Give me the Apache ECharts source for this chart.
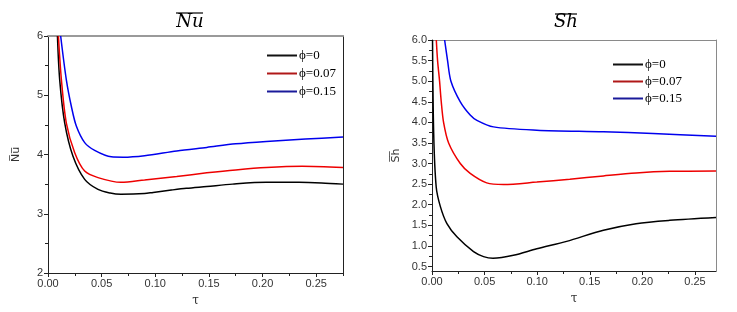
<!DOCTYPE html>
<html><head><meta charset="utf-8">
<script src="https://cdn.jsdelivr.net/npm/echarts@6/dist/echarts.min.js"></script>
<style>html,body{margin:0;padding:0;background:#fff}#c{width:737px;height:312px}</style>
</head><body><div id="c"></div>
<script>
const seriesNames = ['ϕ=0', 'ϕ=0.07', 'ϕ=0.15'];
const lineColors = ['#000000', '#ee0000', '#0000ee'];
const legendColors = ['#111111', '#b01818', '#1a1a9a'];

// Left chart: average Nusselt number
const nuTau0 = [0.0088,0.0109,0.0156,0.0233,0.0342,0.0466,0.058,0.068,0.09,0.098,0.115,0.129,0.148,0.172,0.2035,0.234,0.255,0.275];
const nuVal0 = [6.0,5.26,4.53,3.97,3.58,3.41,3.35,3.33,3.34,3.36,3.40,3.43,3.46,3.50,3.53,3.53,3.52,3.50];
const nuTau07 = [0.0097,0.0125,0.0171,0.0249,0.0342,0.0466,0.068,0.09,0.12,0.148,0.175,0.2035,0.237,0.275];
const nuVal07 = [6.0,5.26,4.53,4.03,3.72,3.61,3.53,3.57,3.63,3.69,3.74,3.78,3.80,3.78];
const nuTau15 = [0.0118,0.0171,0.0218,0.0264,0.0342,0.0435,0.059,0.07,0.09,0.12,0.148,0.175,0.2035,0.24,0.275];
const nuVal15 = [6.0,5.26,4.81,4.48,4.20,4.07,3.96,3.955,3.98,4.06,4.12,4.18,4.22,4.26,4.297];

// Right chart: average Sherwood number
const shTau0 = [0.0005,0.0016,0.004,0.0079,0.0142,0.0237,0.0395,0.049,0.058,0.0774,0.0996,0.128,0.163,0.194,0.226,0.27];
const shVal0 = [6.0,3.73,2.43,1.96,1.54,1.22,0.86,0.74,0.70,0.77,0.93,1.11,1.38,1.54,1.62,1.69];
const shTau07 = [0.0041,0.0053,0.0072,0.0088,0.011,0.0158,0.0269,0.0363,0.052,0.068,0.0996,0.131,0.163,0.194,0.226,0.27];
const shVal07 = [6.0,5.5,5.0,4.5,4.0,3.5,3.0,2.76,2.53,2.49,2.55,2.62,2.70,2.77,2.81,2.82];
const shTau15 = [0.012,0.0148,0.018,0.0269,0.0363,0.0427,0.0585,0.0996,0.163,0.21,0.27];
const shVal15 = [6.0,5.5,5.0,4.5,4.18,4.05,3.89,3.81,3.77,3.73,3.66];

// Tick values
const nuXTicks = [0,0.05,0.10,0.15,0.20,0.25];
const nuXMinor = [0.025,0.075,0.125,0.175,0.225,0.275];
const nuYTicks = [2,3,4,5,6];
const nuYMinor = [2.5,3.5,4.5,5.5];
const shXTicks = [0,0.05,0.10,0.15,0.20,0.25];
const shXMinor = [0.025,0.075,0.125,0.175,0.225];
const shYTicks = [0.5,1.0,1.5,2.0,2.5,3.0,3.5,4.0,4.5,5.0,5.5,6.0];
const shYMinor = [0.75,1.25,1.75,2.25,2.75,3.25,3.75,4.25,4.75,5.25,5.75];

const zip = (a, b) => a.map((v, i) => [v, b[i]]);
const labelFont = {color:'#333', fontSize:11, fontFamily:'"Liberation Sans", Arial, sans-serif'};
const dark = '#222';

function mainX(grid, min, max, ticks, name) {
  return {type:'value', gridIndex:grid, min, max, position:'bottom',
    axisLine:{show:true, onZero:false, lineStyle:{color:dark, width:1}},
    axisTick:{show:true, customValues:ticks, length:4, lineStyle:{color:dark}},
    axisLabel:Object.assign({customValues:ticks, margin:5, formatter:v => v.toFixed(2)}, labelFont),
    splitLine:{show:false},
    name, nameLocation:'middle', nameGap:22,
    nameTextStyle:{color:'#333', fontSize:12, fontFamily:'"DejaVu Serif", serif'}};
}
function minorX(grid, min, max, ticks) {
  return {type:'value', gridIndex:grid, min, max, position:'bottom',
    axisLine:{show:false, onZero:false}, axisLabel:{show:false}, splitLine:{show:false},
    axisTick:{show:true, customValues:ticks, length:3, lineStyle:{color:dark}}};
}
function borderX(grid, min, max, color, width) {
  return {type:'value', gridIndex:grid, min, max, position:'top',
    axisLine:{show:true, onZero:false, lineStyle:{color, width}},
    axisLabel:{show:false}, axisTick:{show:false}, splitLine:{show:false}};
}
function mainY(grid, min, max, ticks, digits, name, gap) {
  return {type:'value', gridIndex:grid, min, max, position:'left',
    axisLine:{show:true, onZero:false, lineStyle:{color:dark, width:1}},
    axisTick:{show:true, customValues:ticks, length:4, lineStyle:{color:dark}},
    axisLabel:Object.assign({customValues:ticks, margin:5, formatter:v => v.toFixed(digits)}, labelFont),
    splitLine:{show:false},
    name, nameLocation:'middle', nameGap:gap, nameRotate:90,
    nameTextStyle:{color:'#333', fontSize:11, fontFamily:'"DejaVu Sans", sans-serif'}};
}
function minorY(grid, min, max, ticks) {
  return {type:'value', gridIndex:grid, min, max, position:'left',
    axisLine:{show:false, onZero:false}, axisLabel:{show:false}, splitLine:{show:false},
    axisTick:{show:true, customValues:ticks, length:3, lineStyle:{color:dark}}};
}
function borderY(grid, min, max, color, width) {
  return {type:'value', gridIndex:grid, min, max, position:'right',
    axisLine:{show:true, onZero:false, lineStyle:{color, width}},
    axisLabel:{show:false}, axisTick:{show:false}, splitLine:{show:false}};
}
function line(name, color, data, xi, yi) {
  return {type:'line', name, xAxisIndex:xi, yAxisIndex:yi, data, smooth:0.3,
    showSymbol:false, symbol:'none', clip:true, lineStyle:{color, width:1.5}, itemStyle:{color}};
}
function legend(left, top, gap) {
  return {orient:'vertical', left, top, itemWidth:30, itemHeight:2, itemGap:gap, icon:'rect',
    textStyle:{color:'#000', fontSize:13, fontFamily:'"Liberation Serif", "DejaVu Serif", serif', padding:[0,0,0,-3]},
    data: seriesNames.map((n, i) => ({name:n, itemStyle:{color:legendColors[i]}}))};
}

const chart = echarts.init(document.getElementById('c'), null, {renderer:'canvas'});
chart.setOption({
  animation:false,
  backgroundColor:'#fff',
  grid:[
    {left:48, top:36, width:295, height:238, containLabel:false},
    {left:432, top:40, width:284, height:231, containLabel:false}
  ],
  xAxis:[
    mainX(0, 0, 0.275, nuXTicks, 'τ'), minorX(0, 0, 0.275, nuXMinor), borderX(0, 0, 0.275, '#9a9a9a', 2),
    mainX(1, 0, 0.27, shXTicks, 'τ'), minorX(1, 0, 0.27, shXMinor), borderX(1, 0, 0.27, '#8a8a8a', 1)
  ],
  yAxis:[
    mainY(0, 2, 6, nuYTicks, 0, 'N\u0305u\u0305', 26), minorY(0, 2, 6, nuYMinor), borderY(0, 2, 6, dark, 1),
    mainY(1, 0.39, 6, shYTicks, 1, 'S\u0305h\u0305', 30), minorY(1, 0.39, 6, shYMinor), borderY(1, 0.39, 6, '#8a8a8a', 1)
  ],
  legend:[legend(262, 44, 5), legend(608, 53, 4)],
  series:[
    line(seriesNames[0], lineColors[0], zip(nuTau0, nuVal0), 0, 0),
    line(seriesNames[1], lineColors[1], zip(nuTau07, nuVal07), 0, 0),
    line(seriesNames[2], lineColors[2], zip(nuTau15, nuVal15), 0, 0),
    line(seriesNames[0], lineColors[0], zip(shTau0, shVal0), 3, 3),
    line(seriesNames[1], lineColors[1], zip(shTau07, shVal07), 3, 3),
    line(seriesNames[2], lineColors[2], zip(shTau15, shVal15), 3, 3)
  ],
  graphic:[
    {type:'text', x:190, y:22, style:{text:'Nu', align:'center', verticalAlign:'middle',
      font:'italic 18px "DejaVu Serif", serif', fill:'#000'}},
    {type:'line', shape:{x1:176, y1:13, x2:203, y2:13}, style:{stroke:'#000', lineWidth:1.2}},
    {type:'text', x:566, y:22, style:{text:'Sh', align:'center', verticalAlign:'middle',
      font:'italic 18px "DejaVu Serif", serif', fill:'#000'}},
    {type:'line', shape:{x1:555, y1:14, x2:577, y2:14}, style:{stroke:'#000', lineWidth:1.2}}
  ]
});
</script></body></html>
